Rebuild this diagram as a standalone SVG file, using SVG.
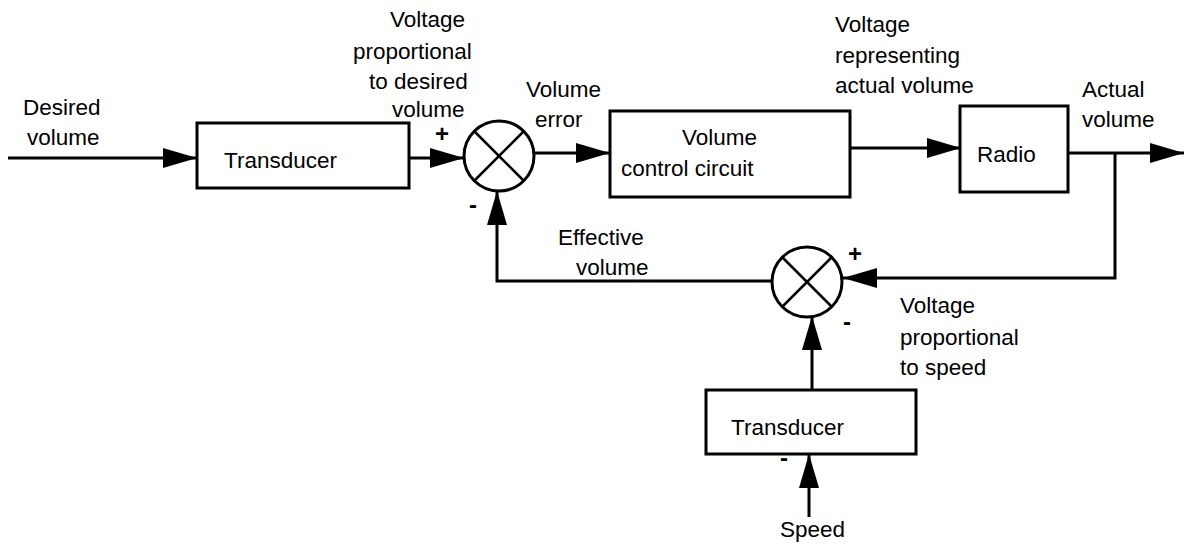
<svg xmlns="http://www.w3.org/2000/svg" width="1186" height="546" viewBox="0 0 1186 546">
<style>
text{font-family:"Liberation Sans",Arial,sans-serif;font-size:22.5px;fill:#000}
.sign{font-weight:bold;text-anchor:middle;font-size:24px}
.box{fill:#fff;stroke:#000;stroke-width:3}
.sum{fill:#fff;stroke:#000;stroke-width:3}
.x{stroke:#000;stroke-width:2.5}
.wire{fill:none;stroke:#000;stroke-width:3}
</style>
<defs>
<marker id="ah" markerUnits="userSpaceOnUse" markerWidth="34" markerHeight="22" refX="34" refY="11" orient="auto" viewBox="0 0 34 22">
<path d="M0,1 L34,11 L0,21 Z" fill="#000"/>
</marker>
</defs>
<rect width="1186" height="546" fill="#fff"/>

<g id="connectors">
<path class="wire" d="M8,158 H197" marker-end="url(#ah)"/>
<path class="wire" d="M409,158 H464" marker-end="url(#ah)"/>
<path class="wire" d="M535,153 H610" marker-end="url(#ah)"/>
<path class="wire" d="M850,148 H961" marker-end="url(#ah)"/>
<path class="wire" d="M1068,153 H1184" marker-end="url(#ah)"/>
<path class="wire" d="M1115,153 V278 H843" marker-end="url(#ah)"/>
<path class="wire" d="M772,281 H497 V191" marker-end="url(#ah)"/>
<path class="wire" d="M812,390 V316" marker-end="url(#ah)"/>
<path class="wire" d="M809,517 V454" marker-end="url(#ah)"/>
</g>

<g id="input-label">
<text x="23" y="115">Desired</text>
<text x="27" y="145">volume</text>
</g>

<g id="transducer1">
<rect class="box" x="197" y="123" width="212" height="65"/>
<text x="224" y="168">Transducer</text>
</g>

<g id="label-desired-voltage">
<text x="390" y="27">Voltage</text>
<text x="353" y="59">proportional</text>
<text x="369" y="89">to desired</text>
<text x="392" y="117">volume</text>
</g>

<g id="sum1">
<circle class="sum" cx="499" cy="156" r="35"/>
<line class="x" x1="474" y1="131" x2="524" y2="181"/>
<line class="x" x1="524" y1="131" x2="474" y2="181"/>
<text class="sign" x="442" y="142">+</text>
<text class="sign" x="473" y="213">-</text>
</g>

<g id="label-error">
<text x="526" y="97">Volume</text>
<text x="535" y="127">error</text>
</g>

<g id="volume-control">
<rect class="box" x="610" y="111" width="240" height="86"/>
<text x="682" y="145">Volume</text>
<text x="621" y="176">control circuit</text>
</g>

<g id="label-actual-voltage">
<text x="835" y="32">Voltage</text>
<text x="835" y="63">representing</text>
<text x="835" y="93">actual volume</text>
</g>

<g id="radio">
<rect class="box" x="960" y="106" width="108" height="86"/>
<text x="977" y="162">Radio</text>
</g>

<g id="label-actual">
<text x="1082" y="97">Actual</text>
<text x="1082" y="127">volume</text>
</g>

<g id="label-effective">
<text x="558" y="245">Effective</text>
<text x="576" y="275">volume</text>
</g>

<g id="sum2">
<circle class="sum" cx="807" cy="282" r="35"/>
<line class="x" x1="782" y1="257" x2="832" y2="307"/>
<line class="x" x1="832" y1="257" x2="782" y2="307"/>
<text class="sign" x="855" y="262">+</text>
<text class="sign" x="847" y="330">-</text>
</g>

<g id="label-speed-voltage">
<text x="900" y="313">Voltage</text>
<text x="900" y="345">proportional</text>
<text x="900" y="375">to speed</text>
</g>

<g id="transducer2">
<rect class="box" x="706" y="390" width="210" height="64"/>
<text x="731" y="435">Transducer</text>
<text class="sign" x="784" y="466">-</text>
</g>

<g id="speed-label">
<text x="780" y="537">Speed</text>
</g>
</svg>
